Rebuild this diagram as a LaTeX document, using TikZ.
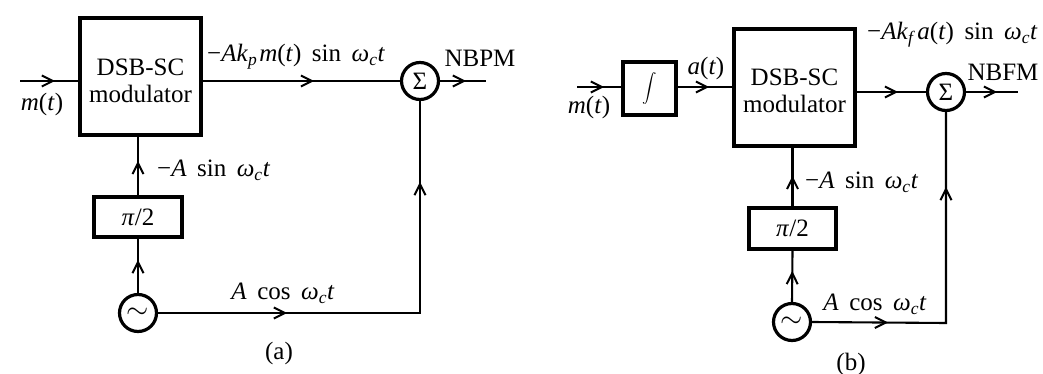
\documentclass[tikz,border=0pt]{standalone}
\usepackage{amsmath}
\usepackage{fontspec}
\setmainfont{Liberation Serif}
\usetikzlibrary{arrows.meta,decorations.markings}
\newcommand\vi[1]{\textit{#1}}
\newcommand\vsub[1]{\textsubscript{\textit{#1}}}
\newcommand\wsp{\hspace{0.42em}}
\begin{document}
\begin{tikzpicture}[x=1pt,y=-1pt,
  txt/.style={font=\fontsize{25}{27}\selectfont, inner sep=0pt},
  blk/.style={draw, line width=4.4pt, inner sep=0pt, align=center, font=\fontsize{25}{27}\selectfont},
  circ/.style={draw, circle, line width=3.2pt, minimum size=37pt, inner sep=0pt, font=\fontsize{25}{27}\selectfont},
  conn/.style={line width=2.1pt},
  tipA/.tip={Straight Barb[length=11pt,width=11pt,line width=2pt]},
  arrowat/.style={postaction={decorate, decoration={markings, mark=at position #1 with {\arrow{tipA}}}}}
]
\useasboundingbox (0,0) rectangle (1043,374);

% ---------------- (a) ----------------
\node[blk, minimum width=121pt, minimum height=117pt,
  label={[txt, align=center, yshift=-4.5pt]center:{DSB-SC\\modulator}}] (dsbA) at (140.5,76.5) {};
\node[circ] (sigA) at (420,81) {Σ};
\node[blk, minimum width=88pt, minimum height=40pt] (pA) at (138,217) {\vi{π}/2};
\node[circ] (oscA) at (138,313) {\scalebox{1.15}{$\sim$}};
\coordinate (inA) at (20,81);
\coordinate (outA) at (486,81);
\coordinate (cornA) at (420,313);

\draw[conn, arrowat=35pt] (inA) -- (inA -| dsbA.west);
\draw[conn, arrowat=111pt] (sigA -| dsbA.east) -- (sigA.west);
\draw[conn, arrowat=26pt] (sigA.east) -- (outA);
\draw[conn, arrowat=129pt, arrowat=393pt] (oscA.east) -- (cornA) -- (sigA.south);
\draw[conn, arrowat=33pt] (oscA.north) -- (pA.south);
\draw[conn, arrowat=34pt] (pA.north) -- (pA.north |- dsbA.south);

\node[txt] (lmA) at (42,104) {\vi{m}(\vi{t})};
\node[txt, anchor=west] (lkA) at (207,57) {−\vi{Ak}\vsub{p}\hspace{0.08em}\vi{m}(\vi{t})\wsp sin\wsp\vi{ω}\vsub{c}\vi{t}};
\node[txt] (lnA) at (480,58) {NBPM};
\node[txt, anchor=west] (lsA) at (157,170) {−\vi{A}\wsp sin\wsp\vi{ω}\vsub{c}\vi{t}};
\node[txt] (lcA) at (283,293) {\vi{A}\wsp cos\wsp\vi{ω}\vsub{c}\vi{t}};
\node[txt] (capA) at (279,353) {(a)};

% ---------------- (b) ----------------
\node[blk, minimum width=53pt, minimum height=53pt] (intB) at (649.5,88.5) {\fontsize{15}{18}\selectfont$\displaystyle\int$};
\node[blk, minimum width=121pt, minimum height=117pt,
  label={[txt, align=center, yshift=-3.5pt]center:{DSB-SC\\modulator}}] (dsbB) at (794.5,87.5) {};
\node[circ] (sigB) at (946,92) {Σ};
\node[blk, minimum width=87pt, minimum height=41pt] (pB) at (792.5,228.5) {\vi{π}/2};
\node[circ] (oscB) at (792,322) {\scalebox{1.15}{$\sim$}};
\coordinate (inB) at (577,87);
\coordinate (outB) at (1018,92);
\coordinate (cornB) at (946,323);

\draw[conn, arrowat=27pt] (inB) -- (inB -| intB.west);
\draw[conn, arrowat=31pt] (intB.east |- inB) -- (inB -| dsbB.west);
\draw[conn, arrowat=41pt] (sigB -| dsbB.east) -- (sigB.west);
\draw[conn, arrowat=31pt] (sigB.east) -- (outB);
\draw[conn, arrowat=76pt, arrowat=270pt] (oscB.east) -- (cornB) -- (sigB.south);
\draw[conn, arrowat=31pt] (oscB.north) -- (pB.south);
\draw[conn, arrowat=30pt] (pB.north) -- (pB.north |- dsbB.south);

\node[txt] (lmB) at (589,107) {\vi{m}(\vi{t})};
\node[txt] (laB) at (706,68) {\vi{a}(\vi{t})};
\node[txt, anchor=west] (lkB) at (867,35) {−\vi{Ak}\vsub{f}\hspace{0.08em}\vi{a}(\vi{t})\wsp sin\wsp\vi{ω}\vsub{c}\vi{t}};
\node[txt] (lnB) at (1003,72) {NBFM};
\node[txt, anchor=west] (lsB) at (805,182) {−\vi{A}\wsp sin\wsp\vi{ω}\vsub{c}\vi{t}};
\node[txt] (lcB) at (875,304) {\vi{A}\wsp cos\wsp\vi{ω}\vsub{c}\vi{t}};
\node[txt] (capB) at (851,364) {(b)};
\end{tikzpicture}
\end{document}
